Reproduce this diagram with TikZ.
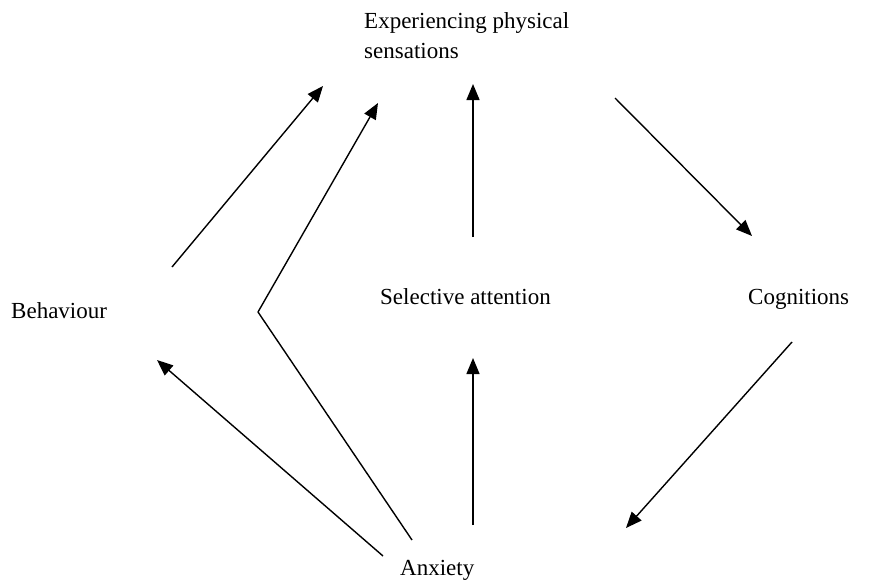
\documentclass[tikz,border=0pt]{standalone}
\usepackage{fontspec}
\setmainfont{Liberation Serif}
\usetikzlibrary{arrows.meta}
\begin{document}
\begin{tikzpicture}[x=1pt,y=-1pt,
  lbl/.style={inner sep=0pt,font=\fontsize{23}{30}\selectfont},
  conn/.style={line width=1.4pt,-{Triangle[length=16pt,width=13pt]}},
  plainline/.style={line width=1.4pt}]
\useasboundingbox (0,0) rectangle (870,581);
% labels
\node[lbl,anchor=north west,align=left] (exp) at (364,12) {Experiencing physical\\sensations};
\node[lbl,anchor=base west] (beh) at (11,318) {Behaviour};
\node[lbl,anchor=base west] (sel) at (380,304) {Selective attention};
\node[lbl,anchor=base west] (cog) at (748,304) {Cognitions};
\node[lbl,anchor=base west] (anx) at (400,575) {Anxiety};
% connector end points
\coordinate (behOut) at (172,267);
\coordinate (expInA) at (323,86);
\coordinate (anxOutA) at (412,540);
\coordinate (bend) at (258,312);
\coordinate (expInB) at (378,103);
\coordinate (selOut) at (473,237);
\coordinate (expInC) at (473,84);
\coordinate (expOut) at (615,98);
\coordinate (cogIn) at (752,236);
\coordinate (cogOut) at (792,342);
\coordinate (anxIn) at (626,528);
\coordinate (anxOutB) at (383,556);
\coordinate (behIn) at (157,360);
\coordinate (anxOutC) at (473,525);
\coordinate (selIn) at (473,358);
% connectors
\draw[conn] (behOut) -- (expInA);
\draw[plainline] (anxOutA) -- (bend);
\draw[conn] (bend) -- (expInB);
\draw[conn] (selOut) -- (expInC);
\draw[conn] (expOut) -- (cogIn);
\draw[conn] (cogOut) -- (anxIn);
\draw[conn] (anxOutB) -- (behIn);
\draw[conn] (anxOutC) -- (selIn);
\end{tikzpicture}
\end{document}
